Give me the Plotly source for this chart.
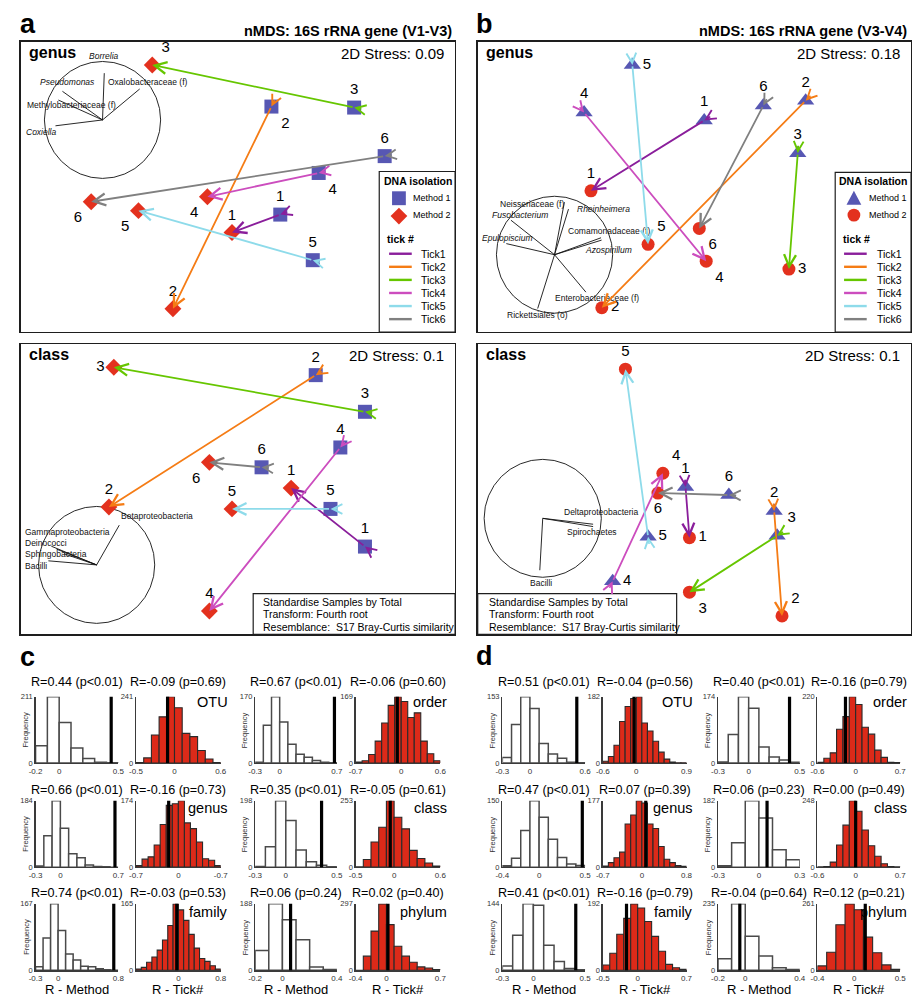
import math
import plotly.graph_objects as go

# =========================== DATA ===========================
TICK_LABELS = ["1", "2", "3", "4", "5", "6"]
TICK_NAMES = ["Tick1", "Tick2", "Tick3", "Tick4", "Tick5", "Tick6"]
METHOD_NAMES = ["Method 1", "Method 2"]

# nMDS coordinates, ticks 1..6 (Method 1 -> Method 2)
a_genus_m1_x = [0.43, 0.34, 1.18, 0.82, 0.76, 1.49]
a_genus_m1_y = [-0.28, 0.81, 0.80, 0.14, -0.74, 0.31]
a_genus_m2_x = [-0.06, -0.66, -0.87, -0.31, -1.01, -1.49]
a_genus_m2_y = [-0.46, -1.23, 1.23, -0.10, -0.24, -0.15]

a_class_m1_x = [1.29, 0.79, 1.29, 1.04, 0.94, 0.24]
a_class_m1_y = [-0.58, 1.15, 0.78, 0.42, -0.20, 0.22]
a_class_m2_x = [0.54, -1.31, -1.26, -0.29, -0.06, -0.29]
a_class_m2_y = [0.01, -0.18, 1.23, -1.23, -0.20, 0.27]

b_genus_m1_x = [0.10, 1.13, 1.05, -1.12, -0.63, 0.70]
b_genus_m1_y = [0.67, 0.87, 0.34, 0.75, 1.23, 0.82]
b_genus_m2_x = [-1.05, -0.94, 0.96, 0.12, -0.47, 0.05]
b_genus_m2_y = [-0.04, -1.22, -0.83, -0.75, -0.58, -0.42]

b_class_m1_x = [-0.09, 0.81, 0.84, -0.83, -0.47, 0.35]
b_class_m1_y = [0.02, -0.22, -0.47, -0.93, -0.48, -0.06]
b_class_m2_x = [-0.05, 0.89, -0.05, -0.32, -0.70, -0.37]
b_class_m2_y = [-0.49, -1.28, -1.04, 0.16, 1.21, -0.04]

a_genus_stress = "0.09"
a_class_stress = "0.1"
b_genus_stress = "0.18"
b_class_stress = "0.1"

# correlation vectors (unit circle)
a_genus_vec_names = ["Borrelia", "Oxalobacteraceae (f)", "Pseudomonas", "Methylobacteriaceae (f)", "Coxiella"]
a_genus_vec_x = [0.03, 0.64, -0.69, -0.76, -0.81]
a_genus_vec_y = [0.80, 0.53, 0.49, 0.34, -0.10]

b_genus_vec_names = ["Neisseriaceae (f)", "Rheinheimera", "Fusobacterium", "Epulopiscium",
                     "Comamonadaceae (f)", "Azospirillum", "Enterobacteriaceae (f)", "Rickettsiales (o)"]
b_genus_vec_x = [0.17, 0.24, -0.75, -0.83, 0.80, 0.81, 0.54, -0.29]
b_genus_vec_y = [0.90, 0.78, 0.59, 0.19, 0.29, 0.25, -0.64, -0.92]

a_class_vec_names = ["Betaproteobacteria", "Gammaproteobacteria", "Deinococci", "Sphingobacteria", "Bacilli"]
a_class_vec_x = [0.39, -0.78, -0.69, -0.56, -0.83]
a_class_vec_y = [0.68, 0.32, 0.27, 0.19, 0.07]

b_class_vec_names = ["Deltaproteobacteria", "Spirochaetes", "Bacilli"]
b_class_vec_x = [0.86, 0.86, -0.05]
b_class_vec_y = [-0.10, -0.14, -0.88]

italic_taxa = ["Borrelia", "Pseudomonas", "Coxiella", "Rheinheimera", "Fusobacterium",
               "Epulopiscium", "Azospirillum"]

stats_lines = ["Standardise Samples by Total", "Transform: Fourth root",
               "Resemblance:  S17 Bray-Curtis similarity"]

# ANOSIM permutation histograms (row-major: M, Tick, M, Tick)
hist_levels_left = ["OTU", "genus", "family"]
hist_levels_right = ["order", "class", "phylum"]

c_R = [0.44, -0.09, 0.67, -0.06, 0.66, -0.16, 0.35, -0.05, 0.74, -0.03, 0.06, 0.02]
c_p = ["<0.01", "=0.69", "<0.01", "=0.60", "<0.01", "=0.73", "<0.01", "=0.61", "<0.01", "=0.53", "=0.24", "=0.40"]
c_xmin = [-0.2, -0.5, -0.3, -0.7, -0.3, -0.7, -0.3, -0.5, -0.3, -0.8, -0.2, -0.4]
c_xmax = [0.5, 0.6, 0.7, 0.6, 0.7, 0.7, 0.5, 0.6, 0.8, 0.8, 0.4, 0.7]
c_xticktext = [["-0.2", "0", "0.5"], ["-0.5", "0", "0.6"], ["-0.3", "0", "0.7"], ["-0.7", "0", "0.6"],
               ["-0.3", "0", "0.7"], ["-0.7", "0", "-0.7"], ["-0.3", "0", "0.5"], ["-0.5", "0", "0.6"],
               ["-0.3", "0", "0.8"], ["", "0", "0.8"], ["-0.2", "0", "0.4"], ["-0.4", "0", "0.7"]]
c_counts = [
    [55, 211, 129, 48, 15, 3, 1],
    [2, 19, 102, 168, 241, 201, 108, 96, 46, 15, 2],
    [2, 97, 170, 105, 48, 23, 15, 7, 2, 1],
    [3, 6, 22, 56, 102, 147, 169, 157, 116, 128, 56, 24, 6],
    [3, 87, 184, 108, 37, 26, 6, 2, 1, 0],
    [4, 21, 27, 58, 112, 162, 166, 174, 116, 101, 66, 22, 18, 4],
    [2, 61, 198, 139, 51, 16, 6, 1],
    [1, 29, 96, 152, 253, 190, 146, 64, 33, 16, 4],
    [9, 81, 167, 100, 41, 26, 10, 9, 4, 1, 0],
    [3, 7, 20, 33, 50, 75, 111, 165, 150, 124, 89, 55, 29, 22, 11, 3],
    [56, 188, 143, 86, 9, 2],
    [0, 63, 175, 297, 204, 107, 63, 36, 15, 10, 3],
]

d_R = [0.51, -0.04, 0.40, -0.16, 0.47, 0.07, 0.06, 0.00, 0.41, -0.16, -0.04, 0.12]
d_p = ["<0.01", "=0.56", "<0.01", "=0.79", "<0.01", "=0.39", "=0.23", "=0.49", "<0.01", "=0.79", "=0.64", "=0.21"]
d_xmin = [-0.3, -0.6, -0.3, -0.6, -0.4, -0.7, -0.3, -0.6, -0.3, -0.5, -0.2, -0.4]
d_xmax = [0.6, 0.9, 0.5, 0.7, 0.5, 0.8, 0.3, 0.7, 0.5, 0.7, 0.4, 0.5]
d_xticktext = [["-0.3", "0", "0.6"], ["-0.6", "0", "0.9"], ["-0.3", "0", "0.5"], ["-0.6", "0", "0.7"],
               ["-0.4", "0", "0.5"], ["-0.7", "0", "0.8"], ["-0.3", "0", "0.3"], ["-0.6", "0", "0.7"],
               ["-0.3", "0", "0.5"], ["-0.5", "0", "0.7"], ["-0.2", "0", "0.4"], ["-0.4", "0", "0.5"]]
d_counts = [
    [13, 89, 153, 126, 45, 21, 11, 2, 1],
    [5, 18, 49, 114, 155, 177, 182, 110, 88, 60, 30, 11, 3, 1, 1],
    [3, 75, 174, 144, 42, 16, 8, 2],
    [3, 16, 34, 112, 154, 220, 194, 119, 96, 43, 19, 3, 2],
    [3, 20, 83, 150, 113, 63, 22, 7, 4],
    [3, 12, 25, 40, 115, 139, 177, 171, 115, 103, 55, 21, 12, 4, 2],
    [4, 67, 182, 135, 48, 20],
    [1, 2, 19, 83, 157, 248, 209, 139, 80, 41, 13, 2, 1],
    [9, 76, 144, 141, 54, 19, 4, 1],
    [15, 49, 104, 150, 192, 180, 141, 98, 55, 17, 7, 3],
    [41, 235, 120, 50, 9, 3],
    [17, 71, 179, 261, 238, 130, 69, 21, 4],
]

# =========================== STYLE ===========================
W, H = 920, 1001
FONT = "Arial, Liberation Sans, sans-serif"
M1_COLOR = "#5757b3"
M2_COLOR = "#e3311e"
TICK_COLORS = ["#8a1e9b", "#f57c15", "#66c600", "#cc4dbe", "#8edbea", "#808080"]
HIST_RED = "#dc2a19"


def PX(x):
    return x / W


def PY(y):
    return 1.0 - y / H


fig = go.Figure()
layout = dict(width=W, height=H, margin=dict(l=0, r=0, t=0, b=0),
              paper_bgcolor="white", plot_bgcolor="white", showlegend=False,
              font=dict(family=FONT, color="black"))
shapes = []
annots = []
axn = [0]


def new_axes(x0, x1, y0, y1, xr, yr, xkw=None, ykw=None):
    axn[0] += 1
    k = axn[0]
    s = "" if k == 1 else str(k)
    xa = dict(domain=[PX(x0), PX(x1)], range=xr, anchor="y" + s, showgrid=False,
              zeroline=False, fixedrange=True)
    ya = dict(domain=[PY(y1), PY(y0)], range=yr, anchor="x" + s, showgrid=False,
              zeroline=False, fixedrange=True)
    if xkw:
        xa.update(xkw)
    if ykw:
        ya.update(ykw)
    layout["xaxis" + s] = xa
    layout["yaxis" + s] = ya
    return "x" + s, "y" + s


def ptext(x, y, s, size, xanchor="center", yanchor="middle", angle=0, color="black"):
    annots.append(dict(xref="paper", yref="paper", x=PX(x), y=PY(y), text=s, showarrow=False,
                       xanchor=xanchor, yanchor=yanchor, textangle=angle,
                       font=dict(size=size, color=color, family=FONT)))


def prect(x0, y0, x1, y1, width=1.2):
    shapes.append(dict(type="rect", xref="paper", yref="paper", x0=PX(x0), x1=PX(x1),
                       y0=PY(y1), y1=PY(y0), line=dict(color="#1e1e1e", width=width),
                       fillcolor="rgba(0,0,0,0)", layer="above"))


def nmds_panel(box, m1x, m1y, m2x, m2y, sym1, sym2, size1, size2, pos1, pos2,
               level, stress, vnames, vx, vy, circ, label_off):
    bx0, by0, bx1, by1 = box
    xr = [-(bx1 - bx0) / 200.0, (bx1 - bx0) / 200.0]
    yr = [-(by1 - by0) / 200.0, (by1 - by0) / 200.0]
    st = dict(showline=True, mirror=True, linecolor="#1e1e1e", linewidth=1.3,
              showticklabels=False, ticks="")
    xa, ya = new_axes(bx0, bx1, by0, by1, xr, yr, dict(st), dict(st))
    cx, cy, r = circ
    shapes.append(dict(type="circle", xref=xa, yref=ya, x0=cx - r, x1=cx + r, y0=cy - r, y1=cy + r,
                       line=dict(color="#111", width=0.9), layer="below"))
    for name, ex, ey, (dx, dy) in zip(vnames, vx, vy, label_off):
        shapes.append(dict(type="line", xref=xa, yref=ya, x0=cx, y0=cy, x1=cx + r * ex, y1=cy + r * ey,
                           line=dict(color="#111", width=0.9), layer="below"))
        s = "<i>%s</i>" % name if name in italic_taxa else name
        annots.append(dict(xref=xa, yref=ya, x=cx, y=cy, xshift=dx, yshift=dy, text=s,
                           showarrow=False, font=dict(size=8.5, family=FONT, color="#111")))
    fig.add_trace(go.Scatter(x=m1x, y=m1y, mode="markers+text", text=TICK_LABELS, textposition=pos1,
                             textfont=dict(size=15, family=FONT, color="black"),
                             marker=dict(symbol=sym1, size=size1, color=M1_COLOR, line=dict(width=0)),
                             xaxis=xa, yaxis=ya, cliponaxis=False, hoverinfo="skip", name=METHOD_NAMES[0]))
    fig.add_trace(go.Scatter(x=m2x, y=m2y, mode="markers+text", text=TICK_LABELS, textposition=pos2,
                             textfont=dict(size=15, family=FONT, color="black"),
                             marker=dict(symbol=sym2, size=size2, color=M2_COLOR, line=dict(width=0)),
                             xaxis=xa, yaxis=ya, cliponaxis=False, hoverinfo="skip", name=METHOD_NAMES[1]))
    for i in range(len(m1x)):
        col = TICK_COLORS[i]
        annots.append(dict(xref=xa, yref=ya, axref=xa, ayref=ya, x=m2x[i], y=m2y[i],
                           ax=m1x[i], ay=m1y[i], text="", showarrow=True, arrowhead=5,
                           arrowsize=1.3, arrowwidth=1.8, arrowcolor=col, standoff=0,
                           startstandoff=0, font=dict(size=1)))
        # fork at the tail (Method 1 end)
        dx = m1x[i] - m2x[i]
        dy = m1y[i] - m2y[i]
        L = math.hypot(dx, dy)
        annots.append(dict(xref=xa, yref=ya, axref=xa, ayref=ya, x=m1x[i], y=m1y[i],
                           ax=m1x[i] + 0.09 * dx / L, ay=m1y[i] + 0.09 * dy / L, text="",
                           showarrow=True, arrowhead=5, arrowsize=1.2, arrowwidth=1.6,
                           arrowcolor=col, standoff=0, font=dict(size=1)))
    ptext(bx0 + 6, by0 + 11, "<b>%s</b>" % level, 16, xanchor="left")
    ptext(bx1 - 9, by0 + 12, "2D Stress: %s" % stress, 15, xanchor="right")


# ---- panel headers ----
ptext(21, 20, "<b>a</b>", 27)
ptext(454, 27, "<b>nMDS: 16S rRNA gene (V1-V3)</b>", 14.5, xanchor="right")
ptext(485, 20, "<b>b</b>", 27)
ptext(916, 27, "<b>nMDS: 16S rRNA gene (V3-V4)</b>", 14.5, xanchor="right")

T, BR, TR, BL, MR, ML, BC = ("top center", "bottom right", "top right", "bottom left",
                             "middle right", "middle left", "bottom center")

nmds_panel((14, 38, 455, 331), a_genus_m1_x, a_genus_m1_y, a_genus_m2_x, a_genus_m2_y,
           "square", "diamond", 14, 13,
           [T, BR, T, BR, T, T], [T, T, TR, BL, BL, BL],
           "genus", a_genus_stress, a_genus_vec_names, a_genus_vec_x, a_genus_vec_y,
           (-1.375, 0.675, 0.59),
           [(1, 64), (45, 38), (-35, 38), (-31, 15), (-61, -12)])

nmds_panel((14, 343, 455, 636), a_class_m1_x, a_class_m1_y, a_class_m2_x, a_class_m2_y,
           "square", "diamond", 14, 13,
           [T, T, T, T, T, T], [T, T, ML, T, T, BL],
           "class", a_class_stress, a_class_vec_names, a_class_vec_x, a_class_vec_y,
           (-1.435, -0.765, 0.59),
           [(60, 49), (-29, 33), (-51, 22), (-41, 11), (-61, -1)])

nmds_panel((478, 38, 918, 331), b_genus_m1_x, b_genus_m1_y, b_genus_m2_x, b_genus_m2_y,
           "triangle-up", "circle", 15, 13,
           [T, T, T, T, MR, T], [T, MR, MR, BR, TR, BR],
           "genus", b_genus_stress, b_genus_vec_names, b_genus_vec_x, b_genus_vec_y,
           (-1.42, -0.685, 0.59),
           [(-23, 51), (49, 46), (-35, 40), (-47, 17), (54, 24), (54, 5), (42, -43), (-17, -60)])

nmds_panel((478, 343, 918, 636), b_class_m1_x, b_class_m1_y, b_class_m2_x, b_class_m2_y,
           "triangle-up", "circle", 15, 13,
           [T, T, TR, MR, MR, T], [MR, TR, BR, TR, T, BC],
           "class", b_class_stress, b_class_vec_names, b_class_vec_x, b_class_vec_y,
           (-1.54, -0.295, 0.595),
           [(58, 6), (49, -14), (-2, -65)])


# ---- legends ----
def legend(bx0, by0, bx1, by1, glyph_x, text_x, title_cx, tick_x, line_x0, line_x1, label_x, kind):
    prect(bx0, by0, bx1, by1)
    ptext(title_cx, 179, "<b>DNA isolation</b>", 10.5)
    if kind == "a":
        shapes.append(dict(type="rect", xref="paper", yref="paper", x0=PX(glyph_x - 7), x1=PX(glyph_x + 7),
                           y0=PY(203), y1=PY(189), fillcolor=M1_COLOR, line=dict(width=0), layer="above"))
        cx, cy, h = glyph_x, 214, 8.5
        path = "M %f,%f L %f,%f L %f,%f L %f,%f Z" % (PX(cx), PY(cy - h), PX(cx + h), PY(cy),
                                                      PX(cx), PY(cy + h), PX(cx - h), PY(cy))
        shapes.append(dict(type="path", xref="paper", yref="paper", path=path, fillcolor=M2_COLOR,
                           line=dict(width=0), layer="above"))
    else:
        path = "M %f,%f L %f,%f L %f,%f Z" % (PX(glyph_x), PY(188.5), PX(glyph_x + 7.5), PY(202.5),
                                              PX(glyph_x - 7.5), PY(202.5))
        shapes.append(dict(type="path", xref="paper", yref="paper", path=path, fillcolor=M1_COLOR,
                           line=dict(width=0), layer="above"))
        shapes.append(dict(type="circle", xref="paper", yref="paper", x0=PX(glyph_x - 6.5),
                           x1=PX(glyph_x + 6.5), y0=PY(219.5), y1=PY(206.5), fillcolor=M2_COLOR,
                           line=dict(width=0), layer="above"))
    ptext(text_x, 196, METHOD_NAMES[0], 9, xanchor="left")
    ptext(text_x, 213, METHOD_NAMES[1], 9, xanchor="left")
    ptext(tick_x, 237, "<b>tick #</b>", 10.5, xanchor="left")
    for i, name in enumerate(TICK_NAMES):
        yy = 252 + i * 13.2
        shapes.append(dict(type="line", xref="paper", yref="paper", x0=PX(line_x0), x1=PX(line_x1),
                           y0=PY(yy), y1=PY(yy), line=dict(color=TICK_COLORS[i], width=2.4), layer="above"))
        ptext(label_x, yy, name, 10.5, xanchor="left")


legend(378, 169, 455, 331, 398, 410, 417, 384, 388, 411, 418, "a")
legend(841, 170, 918, 331, 860, 873, 879, 847, 850, 873, 881, "b")

# ---- stats boxes ----
prect(250, 595, 455, 636)
prect(478, 595, 680, 636)
for j, line in enumerate(stats_lines):
    ptext(258, 603 + 13 * j, line, 10.5, xanchor="left")
    ptext(487, 603 + 13 * j, line, 10.5, xanchor="left")

# =========================== HISTOGRAMS ===========================
C_COLS = [(29, 113), (131, 217), (252, 335), (354, 440)]
D_COLS = [(503, 587), (605, 690), (722, 805), (823, 907)]
ROWS = [(699, 766), (804, 871), (908, 975)]
TITLE_Y = [684, 793, 897]
LEVEL_Y = [704, 811, 916]
XTITLE_Y = 994


def hist_block(cols, R, p, xmin, xmax, tticks, counts):
    for k in range(12):
        r, c = divmod(k, 4)
        x0, x1 = cols[c]
        y0, y1 = ROWS[r]
        is_method = (c % 2 == 0)
        lo, hi = xmin[k], xmax[k]
        cnt = counts[k]
        n = len(cnt)
        w = (hi - lo) / n
        centers = [lo + (i + 0.5) * w for i in range(n)]
        ymax = max(cnt)
        xkw = dict(showline=True, linecolor="#3a3a3a", linewidth=1.3, tickvals=[lo, 0, hi],
                   ticktext=tticks[k], ticks="", tickfont=dict(size=8, color="#333", family=FONT))
        ykw = dict(showline=True, linecolor="#3a3a3a", linewidth=1.3, tickvals=[0, ymax],
                   ticktext=["0", str(ymax)], ticks="", tickfont=dict(size=7.5, color="#333", family=FONT))
        xa, ya = new_axes(x0, x1, y0, y1, [lo, hi], [0, ymax], xkw, ykw)
        if is_method:
            mk = dict(color="white", line=dict(color="#4a4a4a", width=1.5))
        else:
            mk = dict(color=HIST_RED, line=dict(color="#2a2a2a", width=1.1))
        fig.add_trace(go.Bar(x=centers, y=cnt, width=w, marker=mk, xaxis=xa, yaxis=ya,
                             cliponaxis=False, hoverinfo="skip"))
        shapes.append(dict(type="line", xref=xa, yref=ya + " domain", x0=R[k], x1=R[k], y0=0, y1=1,
                           line=dict(color="black", width=3.2), layer="above"))
        ptext((x0 + x1) / 2.0, TITLE_Y[r], "R=%.2f (p%s)" % (R[k], p[k]), 12.6)
        if is_method:
            ptext(x0 - 10, (y0 + y1) / 2.0, "Frequency", 7.5, angle=-90, color="#333")
    for r in range(3):
        ptext(cols[1][1] + 9, LEVEL_Y[r], hist_levels_left[r], 14.5, xanchor="right")
        ptext(cols[3][1] + 9, LEVEL_Y[r], hist_levels_right[r], 14.5, xanchor="right")
    for c in range(4):
        ptext((cols[c][0] + cols[c][1]) / 2.0, XTITLE_Y, "R - Method" if c % 2 == 0 else "R - Tick#", 13)


ptext(21, 659, "<b>c</b>", 27)
ptext(485, 658, "<b>d</b>", 27)
hist_block(C_COLS, c_R, c_p, c_xmin, c_xmax, c_xticktext, c_counts)
hist_block(D_COLS, d_R, d_p, d_xmin, d_xmax, d_xticktext, d_counts)

layout["shapes"] = shapes
layout["annotations"] = annots
fig.update_layout(**layout)
fig.write_html("out.html", config={"displayModeBar": False, "staticPlot": True},
               post_script="document.body.style.margin='0px';document.body.style.overflow='hidden';")
